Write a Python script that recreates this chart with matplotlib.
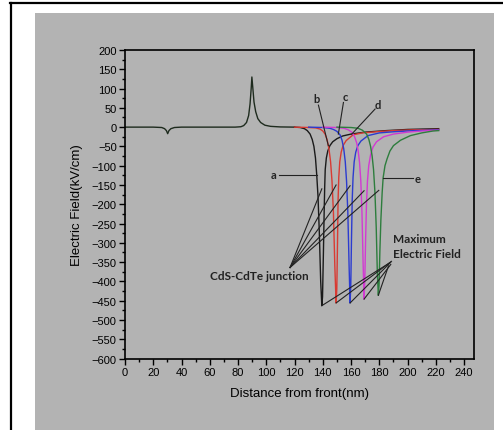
import matplotlib
matplotlib.use('Agg')
import matplotlib.pyplot as plt
from matplotlib.patches import Rectangle
from matplotlib.lines import Line2D
from matplotlib.ticker import MultipleLocator

plt.rcParams['font.family'] = ['Liberation Sans', 'DejaVu Sans']

# 共同部分（0~120 nm，所有曲线重合）
common_x = [0, 20, 26, 28, 29.3, 30.2, 31.1, 32.5, 35, 40, 60, 78, 82, 84, 86, 87.5, 88.5, 89.3, 89.8,
            90.5, 91.3, 92.5, 94, 96, 99, 103, 110, 120]
common_y = [0, 0, -1, -4, -9, -17, -9, -4, -1, 0, 0, 0, 1, 4, 12, 30, 60, 100, 130,
            100, 65, 40, 22, 12, 5, 2, 0.5, 0]

# 曲线 a~e （CdS 厚度不同）
a_x = [120, 124, 127, 129, 131, 132.5, 133.7, 134.8, 135.7, 136.6, 137.5, 138.5, 139.3,
       139.8, 140.4, 140.9, 141.3, 141.7, 142.5, 143.5, 145, 147, 150, 154, 160, 170, 185, 200, 222]
a_y = [0, -1, -4, -9, -18, -32, -50, -80, -124, -180, -270, -400, -463,
       -440, -330, -230, -160, -110, -80, -62, -48, -38, -30, -23, -18, -13, -9, -6, -4]

b_x = [120, 130, 135, 138, 140, 141.6, 143.0, 144.3, 145.5, 146.5, 147.5, 148.5, 149.4,
       149.9, 150.4, 150.8, 151.3, 152, 153, 154.3, 156.5, 161.4, 168, 178, 190, 205, 222]
b_y = [0, -1, -2, -5, -10, -18, -32, -55, -90, -140, -220, -360, -456,
       -420, -300, -190, -130, -90, -65, -48, -35, -20, -15, -12, -9, -7, -6]

c_x = [130, 140, 145, 147.5, 150, 152.2, 153.6, 154.8, 155.9, 156.8, 157.7, 158.6, 159.3,
       159.8, 160.3, 160.8, 161.4, 162.2, 163.3, 164.8, 167, 172, 180, 190, 205, 222]
c_y = [0, -1, -3, -6, -11, -20, -34, -56, -90, -140, -220, -360, -456,
       -410, -290, -190, -130, -90, -65, -48, -36, -22, -15, -12, -9, -7]

d_x = [140, 150, 155, 158, 160.5, 162.5, 163.9, 165.0, 166.0, 166.9, 167.7, 168.5, 169.2,
       169.7, 170.3, 170.9, 171.6, 172.5, 173.8, 175.5, 178, 183, 190, 200, 210, 222]
d_y = [0, -1, -3, -7, -13, -25, -40, -61, -92, -140, -220, -350, -446,
       -400, -290, -200, -140, -100, -72, -52, -38, -25, -18, -13, -10, -8]

e_x = [150, 160, 165, 168, 171, 172.6, 173.8, 174.9, 175.9, 176.9, 177.8, 178.6, 179.3,
       179.8, 180.4, 181.1, 182, 182.7, 184, 185.5, 187.5, 190, 195, 202, 210, 218, 222]
e_y = [0, -1, -3, -8, -18, -32, -50, -75, -110, -170, -260, -380, -436,
       -410, -320, -240, -170, -131, -100, -82, -62, -48, -34, -22, -15, -10, -9]

curves = [(a_x, a_y, '#1a1a1a'), (b_x, b_y, '#d93a32'), (c_x, c_y, '#2b3bd0'),
          (d_x, d_y, '#d23ad2'), (e_x, e_y, '#2d7d3d')]

# 曲线标注 (标签位置, 引线起点, 引线终点)
labels = [('a', 105.0, -124, 109.2, -124, 135.7, -124),
          ('b', 135.2, 75, 136.9, 57, 143.9, -48),
          ('c', 156.2, 80, 154.6, 64, 151.0, -18),
          ('d', 178.9, 59, 177.0, 47, 160.5, -18),
          ('e', 207.0, -132, 203.7, -132, 182.9, -132)]

junction_src = (116.8, -364)
junction_x = [139.3, 149.4, 159.3, 169.2, 179.6]
junction_y = [-160, -150, -152, -165, -164]

maxfield_src_x = [188.1, 188.6, 187.6, 188.1, 186.5]
maxfield_src_y = [-350, -348, -352, -356, -360]
maxfield_x = [139.3, 149.4, 159.3, 169.2, 179.3]
maxfield_y = [-463, -456, -456, -446, -436]

GRAY = '#b3b3b3'


def plot_field():
    fig = plt.figure(figsize=(5.03, 4.31), dpi=100)
    fig.patch.set_facecolor('white')
    fig.patches.append(Rectangle((35 / 503, 0), 459 / 503, 1 - 14 / 431,
                                 transform=fig.transFigure, facecolor=GRAY,
                                 edgecolor='none', zorder=-10))
    fig.lines.append(Line2D([10.5 / 503, 10.5 / 503], [0, 1 - 3.5 / 431],
                            transform=fig.transFigure, color='black', lw=1.6, zorder=-5))
    fig.lines.append(Line2D([10 / 503, 1], [1 - 3.5 / 431, 1 - 3.5 / 431],
                            transform=fig.transFigure, color='black', lw=1.6, zorder=-5))

    ax = fig.add_axes([125 / 503, 1 - 359.5 / 431, 349 / 503, 308.5 / 431])
    ax.set_facecolor(GRAY)

    ax.plot(common_x, common_y, color='#1e2b1e', lw=1.0)
    for x, y, c in curves:
        ax.plot(x, y, color=c, lw=1.0)

    for name, tx, ty, x0, y0, x1, y1 in labels:
        ax.text(tx, ty, name, ha='center', va='center', fontsize=8,
                family=['Lato', 'DejaVu Sans'], fontweight='bold', color='#222222')
        ax.plot([x0, x1], [y0, y1], color='#222222', lw=0.8)

    for x, y in zip(junction_x, junction_y):
        ax.plot([junction_src[0], x], [junction_src[1], y], color='#222222', lw=0.8)
    for sx, sy, x, y in zip(maxfield_src_x, maxfield_src_y, maxfield_x, maxfield_y):
        ax.plot([sx, x], [sy, y], color='#222222', lw=0.8)

    ax.text(95.1, -385, 'CdS-CdTe junction', ha='center', va='center', fontsize=8.5,
            family=['Lato', 'DejaVu Sans'], fontweight='bold', color='#222222')
    ax.text(189.5, -309, 'Maximum\nElectric Field', ha='left', va='center', fontsize=8.5,
            family=['Lato', 'DejaVu Sans'], fontweight='bold', color='#222222',
            linespacing=1.45)

    ax.set_xlim(0, 247)
    ax.set_ylim(-600, 200)
    ax.xaxis.set_major_locator(MultipleLocator(20))
    ax.xaxis.set_minor_locator(MultipleLocator(10))
    ax.yaxis.set_major_locator(MultipleLocator(50))
    ax.yaxis.set_minor_locator(MultipleLocator(25))
    ax.tick_params(which='both', direction='out', width=1.0, labelsize=8, pad=2)
    ax.tick_params(which='major', length=4)
    ax.tick_params(which='minor', length=2.5)
    for s in ax.spines.values():
        s.set_linewidth(1.2)

    ax.set_xlabel('Distance from front(nm)', fontsize=9.5, labelpad=7)
    ax.set_ylabel('Electric Field(kV/cm)', fontsize=9.5, labelpad=6)
    return fig


if __name__ == '__main__':
    fig = plot_field()
    fig.savefig('out.png', dpi=100)
